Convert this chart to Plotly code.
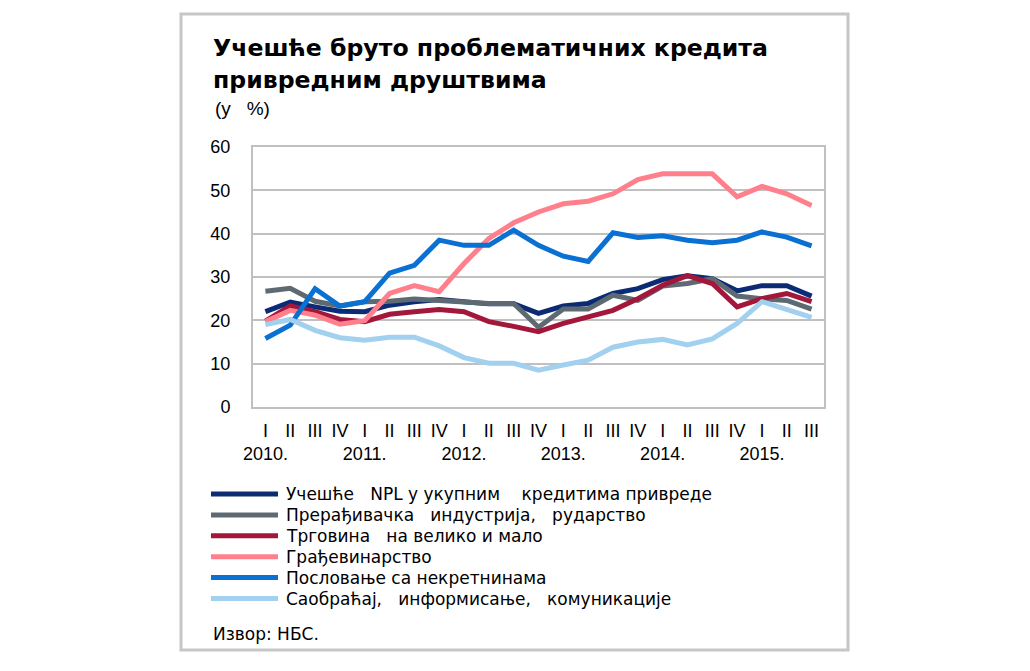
import plotly.graph_objects as go

# ---------------- data ----------------
periods = ["2010Q1", "2010Q2", "2010Q3", "2010Q4",
           "2011Q1", "2011Q2", "2011Q3", "2011Q4",
           "2012Q1", "2012Q2", "2012Q3", "2012Q4",
           "2013Q1", "2013Q2", "2013Q3", "2013Q4",
           "2014Q1", "2014Q2", "2014Q3", "2014Q4",
           "2015Q1", "2015Q2", "2015Q3"]
tick_text = ["I<br>2010.", "II", "III", "IV",
             "I<br>2011.", "II", "III", "IV",
             "I<br>2012.", "II", "III", "IV",
             "I<br>2013.", "II", "III", "IV",
             "I<br>2014.", "II", "III", "IV",
             "I<br>2015.", "II", "III"]

npl_total = [22.0, 24.2, 23.1, 22.1, 22.0, 23.5, 24.3, 24.8, 24.3, 23.8, 23.8,
             21.6, 23.3, 23.9, 26.2, 27.3, 29.4, 30.3, 29.6, 26.8, 28.0, 28.0, 25.6]
manufacturing = [26.7, 27.4, 24.4, 23.3, 24.3, 24.4, 24.9, 24.5, 24.3, 23.9, 23.9,
                 18.4, 22.6, 22.6, 25.8, 24.6, 27.9, 28.5, 29.6, 25.6, 25.0, 24.6, 22.6]
trade = [19.8, 23.3, 22.0, 20.2, 19.7, 21.4, 22.0, 22.5, 22.0, 19.7, 18.6,
         17.4, 19.3, 20.8, 22.3, 25.0, 28.1, 30.3, 28.5, 23.1, 25.0, 26.2, 24.3]
construction = [19.7, 22.3, 21.2, 19.1, 19.9, 26.2, 28.0, 26.6, 33.1, 38.9, 42.5,
                45.0, 46.9, 47.5, 49.2, 52.5, 53.8, 53.8, 53.8, 48.5, 50.9, 49.2, 46.5]
real_estate = [15.8, 18.9, 27.3, 23.3, 24.3, 30.9, 32.7, 38.5, 37.3, 37.3, 40.8,
               37.3, 34.8, 33.6, 40.2, 39.1, 39.5, 38.5, 37.9, 38.5, 40.4, 39.2, 37.2]
transport = [19.0, 20.2, 17.7, 16.0, 15.4, 16.1, 16.1, 14.1, 11.4, 10.1, 10.1,
             8.5, 9.7, 10.8, 13.8, 15.0, 15.6, 14.3, 15.7, 19.3, 24.3, 22.6, 20.7]

series_names = ["Учешће  NPL у укупним   кредитима привреде",
                "Прерађивачка  индустрија,  рударство",
                "Трговина  на велико и мало",
                "Грађевинарство",
                "Пословање са некретнинама",
                "Саобраћај,  информисање,  комуникације"]
series_values = [npl_total, manufacturing, trade, construction, real_estate, transport]
series_colors = ["#0b2c74", "#5e6a72", "#a3173a", "#ff808c", "#0a70d2", "#a2d0ef"]

y_ticks = [0, 10, 20, 30, 40, 50, 60]

title_line1 = "Учешће бруто проблематичних кредита"
title_line2 = "привредним друштвима"
unit_text = "(у  %)"
source_text = "Извор: НБС."

# ---------------- layout geometry (page pixels) ----------------
OFF = 8                     # page body margin
W, H = 1030 - 2 * OFF, 671 - 2 * OFF
PL, PR, PT, PB = 253, 824, 147, 407  # plot area in page pixels


def px(x):
    return (x - PL) / (PR - PL)


def py(y):
    return (PB - y) / (PB - PT)


def sp(s):
    return s.replace("  ", "\u00a0\u00a0 ")


FONT = "Liberation Sans, Arial, sans-serif"
FONT_WIDE = "DejaVu Sans, Liberation Sans, sans-serif"

fig = go.Figure()
for name, vals, col in zip(series_names, series_values, series_colors):
    fig.add_trace(go.Scatter(x=periods, y=vals, mode="lines", name=name,
                             line=dict(color=col, width=5), showlegend=False))

shapes = []
annotations = []

# outer frame
shapes.append(dict(type="rect", xref="paper", yref="paper",
                   x0=px(181), x1=px(848), y0=py(650), y1=py(14),
                   line=dict(color="#c6c6c6", width=3), layer="below"))

# title
annotations.append(dict(xref="paper", yref="paper", x=px(211), y=py(48),
                        xanchor="left", yanchor="middle", showarrow=False,
                        text="<b>" + title_line1 + "</b>",
                        font=dict(family=FONT_WIDE, size=23.6, color="#000")))
annotations.append(dict(xref="paper", yref="paper", x=px(211), y=py(80),
                        xanchor="left", yanchor="middle", showarrow=False,
                        text="<b>" + title_line2 + "</b>",
                        font=dict(family=FONT_WIDE, size=23.6, color="#000")))
annotations.append(dict(xref="paper", yref="paper", x=px(213), y=py(108),
                        xanchor="left", yanchor="middle", showarrow=False,
                        text=sp(unit_text),
                        font=dict(family=FONT, size=19, color="#000")))

# custom legend
leg_y0, leg_dy = 494, 20.9
for i, (name, col) in enumerate(zip(series_names, series_colors)):
    yy = leg_y0 + i * leg_dy
    shapes.append(dict(type="line", xref="paper", yref="paper",
                       x0=px(211), x1=px(278), y0=py(yy), y1=py(yy),
                       line=dict(color=col, width=5)))
    annotations.append(dict(xref="paper", yref="paper", x=px(284), y=py(yy),
                            xanchor="left", yanchor="middle", showarrow=False,
                            text=sp(name),
                            font=dict(family=FONT_WIDE, size=17, color="#000")))

annotations.append(dict(xref="paper", yref="paper", x=px(211), y=py(634),
                        xanchor="left", yanchor="middle", showarrow=False,
                        text=source_text,
                        font=dict(family=FONT_WIDE, size=17, color="#000")))

fig.update_layout(
    width=W, height=H,
    margin=dict(l=PL - OFF, r=(OFF + W) - PR, t=PT - OFF, b=(OFF + H) - PB, pad=0),
    paper_bgcolor="white", plot_bgcolor="white",
    shapes=shapes, annotations=annotations,
    showlegend=False,
    xaxis=dict(type="category", range=[-0.5, len(periods) - 0.5],
               tickmode="array", tickvals=periods, ticktext=tick_text,
               showgrid=False, showline=True, mirror=True,
               linecolor="#c0c0c0", linewidth=2, ticks="",
               tickangle=0,
               tickfont=dict(family=FONT, size=18, color="#000"),
               ticklabelstandoff=6, zeroline=False),
    yaxis=dict(range=[0, 60], tickmode="array", tickvals=y_ticks,
               showgrid=True, gridcolor="#c0c0c0", gridwidth=2,
               showline=True, mirror=True, linecolor="#c0c0c0", linewidth=2,
               ticks="", tickfont=dict(family=FONT, size=18, color="#000"),
               ticklabelstandoff=17, zeroline=False),
)

fig.write_html("out.html")
